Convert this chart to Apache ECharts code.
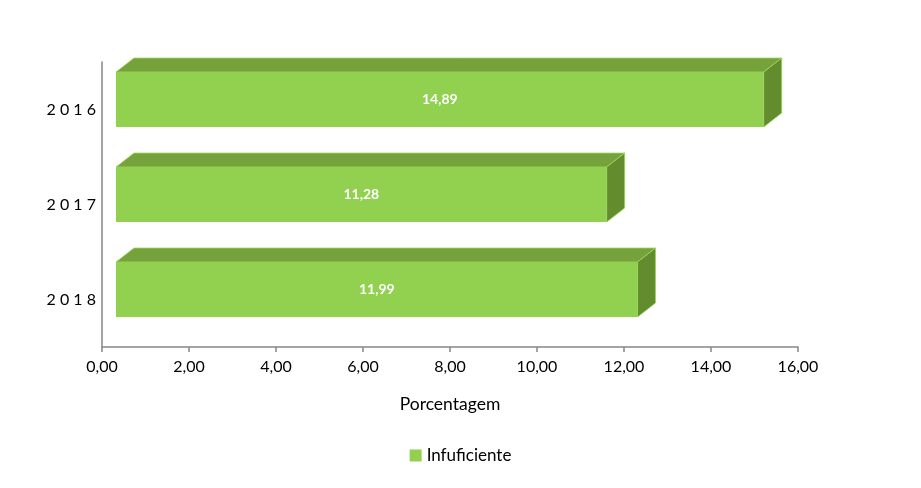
<!DOCTYPE html>
<html>
<head>
<meta charset="utf-8">
<script src="https://cdn.jsdelivr.net/npm/echarts@6/dist/echarts.min.js"></script>
<style>html,body{margin:0;padding:0;background:#fff;}#c{width:921px;height:488px;}</style>
</head>
<body>
<div id="c"></div>
<script>
const categories = ['2016', '2017', '2018'];
const values = [14.89, 11.28, 11.99];
const seriesName = 'Infuficiente';
const axisTitle = 'Porcentagem';

const FONT = 'Lato, "Open Sans", sans-serif';
const chart = echarts.init(document.getElementById('c'), null, {renderer: 'canvas'});

function fmt(v) { return v.toFixed(2).replace('.', ','); }

function renderItem(params, api) {
  const v = api.value(0);
  const idx = api.value(1);
  const p0 = api.coord([0, idx]);
  const p1 = api.coord([v, idx]);
  const shift = 14;
  const x0 = p0[0] + shift, x1 = p1[0] + shift;
  const yc = p0[1];
  const top = yc - 37.5, bot = yc + 17.5;
  const dx = 18, dy = -14;
  return {
    type: 'group',
    children: [
      {type: 'polygon', shape: {points: [[x0, top], [x0 + dx, top + dy], [x1 + dx, top + dy], [x1, top]]},
        style: {fill: '#76A23B', stroke: '#9ED95E', lineWidth: 0.8}},
      {type: 'polygon', shape: {points: [[x1, top], [x1 + dx, top + dy], [x1 + dx, bot + dy], [x1, bot]]},
        style: {fill: '#628C2E', stroke: '#9ED95E', lineWidth: 0.8}},
      {type: 'rect', shape: {x: x0, y: top, width: x1 - x0, height: bot - top},
        style: {fill: '#92D050'}},
      {type: 'text', x: (x0 + x1) / 2, y: (top + bot) / 2,
        style: {text: fmt(v), fill: '#ffffff', font: 'bold 14px ' + FONT, align: 'center', verticalAlign: 'middle'}}
    ]
  };
}

chart.setOption({
  animation: false,
  backgroundColor: '#ffffff',
  grid: {left: 102, right: 123, top: 62, bottom: 141, containLabel: false},
  legend: {
    data: [{name: seriesName, icon: 'rect'}],
    bottom: 19, left: 'center',
    itemWidth: 12, itemHeight: 12, itemGap: 4,
    textStyle: {fontFamily: FONT, fontSize: 17, color: '#000'}
  },
  xAxis: {
    type: 'value', min: 0, max: 16, interval: 2,
    name: axisTitle, nameLocation: 'middle', nameGap: 48,
    nameTextStyle: {fontFamily: FONT, fontSize: 17.5, color: '#000'},
    axisLine: {show: true, lineStyle: {color: '#868686', width: 1.5}},
    axisTick: {show: true, length: 5, lineStyle: {color: '#868686', width: 1.5}},
    axisLabel: {fontFamily: FONT, fontSize: 16, color: '#000', margin: 12, formatter: v => fmt(v)},
    splitLine: {show: false}
  },
  yAxis: {
    type: 'category', data: categories, inverse: true,
    axisLine: {show: true, lineStyle: {color: '#868686', width: 1.5}},
    axisTick: {show: false},
    axisLabel: {fontFamily: FONT, fontSize: 16, color: '#000', margin: 6, padding: [3, 0, 0, 0],
      formatter: v => v.split('').join(' ')}
  },
  series: [{
    type: 'custom', name: seriesName,
    itemStyle: {color: '#92D050'},
    renderItem: renderItem,
    encode: {x: 0, y: 1},
    data: values.map((v, i) => [v, i])
  }]
});
</script>
</body>
</html>
